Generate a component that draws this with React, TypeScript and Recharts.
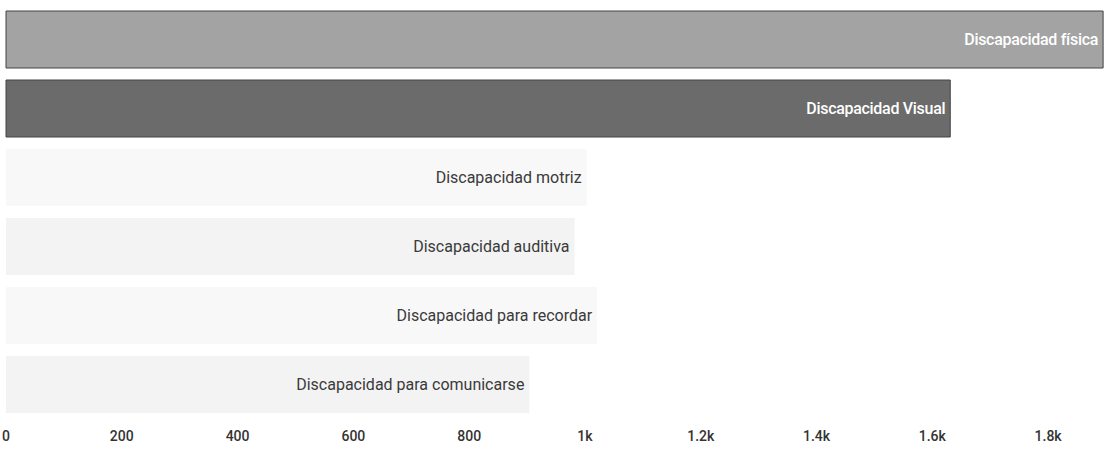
import React from 'react';
import { BarChart, Bar, XAxis, YAxis, Cell, LabelList } from 'recharts';

const categories = [
  'Discapacidad física',
  'Discapacidad Visual',
  'Discapacidad motriz',
  'Discapacidad auditiva',
  'Discapacidad para recordar',
  'Discapacidad para comunicarse',
];
const values = [1895, 1631, 1003, 982, 1021, 904];
const xTicks = [0, 200, 400, 600, 800, 1000, 1200, 1400, 1600, 1800];
const tickLabels = ['0', '200', '400', '600', '800', '1k', '1.2k', '1.4k', '1.6k', '1.8k'];

const barFills = ['#a3a3a3', '#6b6b6b', '#f8f8f8', '#f3f3f3', '#f8f8f8', '#f3f3f3'];
const labelFills = ['#ffffff', '#ffffff', '#3a3a3a', '#3a3a3a', '#3a3a3a', '#3a3a3a'];

const data = categories.map((name, i) => ({ name, value: values[i] }));

const FONT = '"Roboto", "Noto Sans", sans-serif';

function BarLabel(props: any) {
  const { x, y, width, height, index } = props;
  return (
    <text
      x={x + width - 5}
      y={y + height / 2}
      textAnchor="end"
      dominantBaseline="central"
      fill={labelFills[index]}
      fontFamily={FONT}
      fontSize={16}
      fontWeight={index < 2 ? 500 : 400}
      letterSpacing={index < 2 ? -0.3 : 0}
    >
      {categories[index]}
    </text>
  );
}

export default function App() {
  return (
    <div style={{ position: 'absolute', left: 0, top: 0, width: 1107, height: 461, background: '#fff' }}>
      <BarChart
        width={1107}
        height={461}
        data={data}
        layout="vertical"
        margin={{ top: 5, right: 1, left: 6, bottom: 12 }}
        barCategoryGap={6}
      >
        <XAxis
          type="number"
          domain={[0, 1900]}
          ticks={xTicks}
          tickFormatter={(v: number) => tickLabels[xTicks.indexOf(v)]}
          axisLine={false}
          tickLine={false}
          tick={{ fill: '#333', fontSize: 14, fontFamily: FONT, fontWeight: 500 }}
          tickMargin={6}
          interval={0}
        />
        <YAxis type="category" dataKey="name" hide />
        <Bar dataKey="value" isAnimationActive={false}>
          {data.map((d, i) => (
            <Cell key={d.name} fill={barFills[i]} stroke={i < 2 ? '#444' : 'none'} strokeWidth={1} />
          ))}
          <LabelList dataKey="value" content={BarLabel} />
        </Bar>
      </BarChart>
    </div>
  );
}
